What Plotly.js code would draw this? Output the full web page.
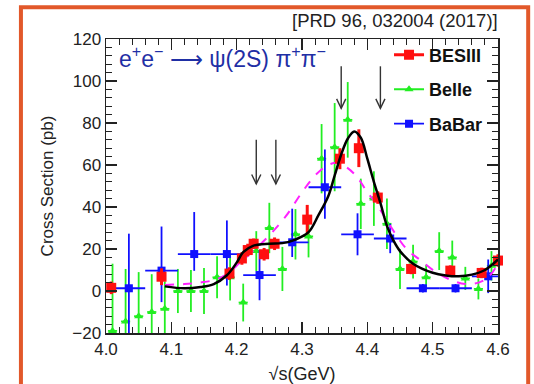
<!DOCTYPE html>
<html><head><meta charset="utf-8">
<script src="https://cdn.plot.ly/plotly-3.0.1.min.js"></script>
<style>html,body{margin:0;padding:0;background:#fff}</style>
</head><body>
<div id="chart" style="width:534px;height:384px"></div>
<script>
// BESIII
const besX = [4.008,4.085,4.189,4.208,4.217,4.226,4.242,4.258,4.308,4.358,4.387,4.416,4.467,4.527,4.575,4.600];
const besY = [1.5,6.8,8.3,15.5,19.5,22.5,17.5,22.5,34,63,68,44.5,10.5,9.7,8.6,14.5];
const besErr = [3,4,3,3,3,2.5,3,3,7,5,9,3,2.5,2.5,2.5,3];
// Belle
const bellX = [4.01,4.03,4.05,4.07,4.09,4.11,4.13,4.15,4.17,4.19,4.21,4.23,4.25,4.27,4.29,4.31,4.33,4.35,4.37,4.39,4.41,4.43,4.45,4.47,4.49,4.51,4.53,4.55,4.57,4.59];
const bellY = [-19,-14.5,-12,-10,-8.5,0,0,0,6.5,6.5,-5.5,19,30,10.5,27,26,63,68.5,81.5,41.5,44,32,10.5,14,6.5,19,16,6,1,12];
const bellErr = [32,25,21,18,13,10.5,10,11,10,11,9,9.5,12,10.5,12,10,16.5,21,18,12,13,12,9.5,8,6,9,8,5.5,5,7];
// BaBar
const babX = [4.035,4.085,4.135,4.185,4.235,4.285,4.335,4.385,4.435,4.485,4.535,4.585];
const babY = [1.3,9.7,17.6,17.6,7.6,23.2,49.4,27,25,1.3,1.3,7];
const babErrUp = [26,21,20,16,12,16,18,10,7,2,2,8];
const babErrDn = [26,15,8,15,12,7,15,10,7,2,2,8];
// Fit curves
const fitX = [4.09,4.12,4.145,4.165,4.185,4.20,4.21,4.225,4.25,4.27,4.29,4.31,4.325,4.34,4.35,4.36,4.37,4.38,4.39,4.40,4.41,4.42,4.43,4.44,4.45,4.47,4.50,4.52,4.54,4.56,4.58,4.60];
const fitY = [2.2,1.3,1.9,3.3,7.5,13.5,18.5,21.5,22.5,22.8,24.5,28,36,45,55,65,72.5,76,73,63,52,42,31,24,19,13,8.7,7.4,7,7.8,10,15];
const dashX = [4.09,4.12,4.145,4.165,4.185,4.205,4.225,4.25,4.275,4.30,4.32,4.34,4.355,4.37,4.385,4.40,4.415,4.435,4.46,4.48,4.505,4.53,4.55,4.57,4.585,4.60];
const dashY = [2.9,3.3,4.1,5.2,8,13.5,19,26.5,35.5,47,55,60,61,58.5,54,47,41,31,20,15,9,5,3.3,4,6.5,13];
// Arrows
const arrowX = [4.23,4.26,4.36,4.42];
const arrowTop = [72,72,107,107];
const arrowBot = [51,51,87,87];

const RED='#ff1010', GREEN='#22ee22', BLUE='#1010ff', MAG='#ff22ff';
const FONT='Liberation Sans, Arial, sans-serif';

const traces = [
  {x:bellX, y:bellY, type:'scatter', mode:'markers', showlegend:false,
   marker:{symbol:'triangle-up', size:8, color:GREEN},
   error_y:{type:'data', array:bellErr, color:GREEN, thickness:1.8, width:0},
   error_x:{type:'constant', value:0.007, color:GREEN, thickness:1.8, width:0}},
  {x:babX, y:babY, type:'scatter', mode:'markers', showlegend:false,
   marker:{symbol:'square', size:8, color:BLUE},
   error_y:{type:'data', array:babErrUp, arrayminus:babErrDn, symmetric:false, color:BLUE, thickness:1.8, width:0},
   error_x:{type:'constant', value:0.025, color:BLUE, thickness:1.8, width:0}},
  {x:dashX, y:dashY, type:'scatter', mode:'lines', showlegend:false,
   line:{color:MAG, width:2, dash:'dash', shape:'spline'}},
  {x:besX, y:besY, type:'scatter', mode:'markers', showlegend:false, cliponaxis:false,
   marker:{symbol:'square', size:10, color:RED},
   error_y:{type:'data', array:besErr, color:RED, thickness:3, width:0}},
  {x:fitX, y:fitY, type:'scatter', mode:'lines', showlegend:false,
   line:{color:'#000', width:2.5, shape:'spline'}},
  {x:[null], y:[null], type:'scatter', mode:'lines+markers', name:'BESIII', legendgroup:'a',
   line:{color:RED, width:3}, marker:{symbol:'square', size:10, color:RED}},
  {x:[null], y:[null], type:'scatter', mode:'lines+markers', name:'Belle', legendgroup:'b',
   line:{color:GREEN, width:1.8}, marker:{symbol:'triangle-up', size:8, color:GREEN}},
  {x:[null], y:[null], type:'scatter', mode:'lines+markers', name:'BaBar', legendgroup:'c',
   line:{color:BLUE, width:1.8}, marker:{symbol:'square', size:8, color:BLUE}}
];

// arrows drawn as shapes (shaft + open head)
const headDx = 0.007, headDy = 4.5;
const shapes = [];
arrowX.forEach((x,i)=>{
  shapes.push({type:'line', xref:'x', yref:'y', x0:x, x1:x, y0:arrowTop[i], y1:arrowBot[i],
    line:{color:'#333', width:1.4}});
  shapes.push({type:'path', xref:'x', yref:'y',
    path:'M'+(x-headDx)+','+(arrowBot[i]+headDy)+' L'+x+','+arrowBot[i]+' L'+(x+headDx)+','+(arrowBot[i]+headDy),
    line:{color:'#333', width:1.4}});
});
shapes.push({type:'rect', xref:'paper', yref:'paper', x0:-0.217, x1:1.077, y0:-0.2, y1:1.108,
  line:{color:'#e2582a', width:4}, fillcolor:'rgba(0,0,0,0)', layer:'above'});

const annotations = [
  {xref:'paper', yref:'paper', x:0.028, y:0.94, xanchor:'left', yanchor:'middle', showarrow:false,
   text:'e<sup>+</sup>e<sup>−</sup> ⟶ ψ(2S) π<sup>+</sup>π<sup>−</sup>', font:{family:FONT, size:23, color:'#1f2fa5'}},
  {xref:'paper', yref:'paper', x:1.006, y:1.062, xanchor:'right', yanchor:'middle', showarrow:false,
   text:'[PRD 96, 032004 (2017)]', font:{family:FONT, size:18.5, color:'#222'}}
];

const axBase = {showgrid:false, zeroline:false, showline:true, linecolor:'#222', linewidth:1.5,
  mirror:'ticks', ticks:'inside', ticklen:11, tickwidth:1.3, tickcolor:'#222',
  tickfont:{family:FONT, size:17, color:'#222'}};

const layout = {
  width:534, height:384, margin:{l:106, r:36, t:39, b:51},
  paper_bgcolor:'#fff', plot_bgcolor:'#fff', font:{family:FONT, color:'#222'},
  xaxis:Object.assign({}, axBase, {range:[4.0,4.6], tick0:4.0, dtick:0.1, tickformat:'.1f',
    minor:{dtick:0.02, ticklen:6, tickwidth:1, tickcolor:'#222', ticks:'inside'},
    title:{text:'√s(GeV)', font:{family:FONT, size:18, color:'#222'}, standoff:9}}),
  yaxis:Object.assign({}, axBase, {range:[-20,120], tick0:0, dtick:20,
    minor:{dtick:4, ticklen:6, tickwidth:1, tickcolor:'#222', ticks:'inside'},
    title:{text:'Cross Section (pb)', font:{family:FONT, size:17, color:'#222'}, standoff:14}}),
  legend:{x:0.722, y:1.008, xanchor:'left', yanchor:'top', bgcolor:'rgba(0,0,0,0)',
    font:{family:FONT, size:18, color:'#111', weight:'bold'}, tracegroupgap:8, itemwidth:30},
  annotations:annotations,
  shapes:shapes
};

Plotly.newPlot('chart', traces, layout, {staticPlot:true, displayModeBar:false});
</script>
</body></html>
